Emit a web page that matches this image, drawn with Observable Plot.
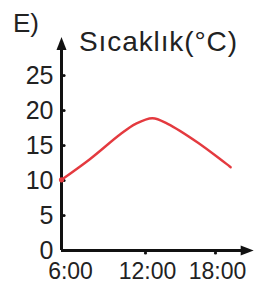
<!DOCTYPE html>
<html>
<head>
<meta charset="utf-8">
<script src="https://cdn.jsdelivr.net/npm/d3@7"></script>
<script src="https://cdn.jsdelivr.net/npm/@observablehq/plot@0.6"></script>
<style>
  html, body { margin: 0; padding: 0; background: #fff; }
  #wrap { position: relative; width: 254px; height: 286px; font-family: "Liberation Sans", Arial, Helvetica, sans-serif; color: #222; }
  .lbl { position: absolute; white-space: nowrap; line-height: 1; }
</style>
</head>
<body>
<div id="wrap">
  <div class="lbl" style="left:13px; top:10px; font-size:26px;">E)</div>
  <div class="lbl" style="left:79px; top:28px; font-size:28px; letter-spacing:0.9px;">Sıcaklık(°C)</div>
</div>
<script>
// Data
const hours = [6, 8, 10.2, 11.3, 12.6, 13.9, 16.5, 19.3];
const temps = [10.1, 13.0, 16.6, 18.1, 18.9, 18.1, 15.4, 11.9];
const yTicks = [0, 5, 10, 15, 20, 25];
const xTicks = [6, 12, 18];
const xTickLabels = ["6:00", "12:00", "18:00"];
const yAxisTop = 29.2;
const xAxisEnd = 20.5;

const data = hours.map((h, i) => ({hour: h, temp: temps[i]}));

const upHead = { draw(ctx) { ctx.moveTo(0, -9); ctx.lineTo(5, 4); ctx.lineTo(-5, 4); ctx.closePath(); } };
const rightHead = { draw(ctx) { ctx.moveTo(9, 0); ctx.lineTo(-4, 5); ctx.lineTo(-4, -5); ctx.closePath(); } };

const chart = Plot.plot({
  width: 254,
  height: 286,
  marginLeft: 61,
  marginBottom: 36,
  marginTop: 75,
  marginRight: 39,
  style: { fontFamily: "'Liberation Sans', Arial, Helvetica, sans-serif", color: "#222", background: "#fff" },
  x: { type: "linear", domain: [6, 12, 18], range: [61, 145, 215], axis: null },
  y: { domain: [0, 25], range: [250, 75] },
  marks: [
    Plot.axisY({ ticks: yTicks, tickSize: 0, tickPadding: 8, fontSize: 25, fill: "#222", label: null }),
    Plot.text(xTicks.slice(0, 1), { x: d => d, y: 0, text: (d, i) => xTickLabels[i], fontSize: 23, fill: "#222", dx: 9, dy: 21 }),
    Plot.text(xTicks.slice(1), { x: d => d, y: 0, text: (d, i) => xTickLabels[i + 1], fontSize: 23, fill: "#222", dx: 2, dy: 21 }),
    Plot.ruleX([6], { y1: 0, y2: yAxisTop, stroke: "#111", strokeWidth: 3 }),
    Plot.ruleY([0], { x1: 6, x2: xAxisEnd, stroke: "#111", strokeWidth: 3 }),
    Plot.dot([yAxisTop], { x: 6, y: d => d, symbol: upHead, fill: "#111", stroke: "none" }),
    Plot.dot([xAxisEnd], { x: d => d, y: 0, symbol: rightHead, fill: "#111", stroke: "none" }),
    Plot.dot(yTicks.slice(1), { x: 6, y: d => d, r: 1.6, dx: 2.5, fill: "#111", stroke: "none" }),
    Plot.dot(xTicks.slice(1), { x: d => d, y: 0, r: 1.6, dy: 2.5, fill: "#111", stroke: "none" }),
    Plot.line(data, { x: "hour", y: "temp", stroke: "#e43a3f", strokeWidth: 2.4, curve: "catmull-rom" }),
    Plot.dot(data.slice(0, 1), { x: "hour", y: "temp", r: 2.6, fill: "#e43a3f", stroke: "none" })
  ]
});
document.getElementById("wrap").prepend(chart);
chart.style.position = "absolute";
chart.style.left = "0";
chart.style.top = "0";
</script>
</body>
</html>
